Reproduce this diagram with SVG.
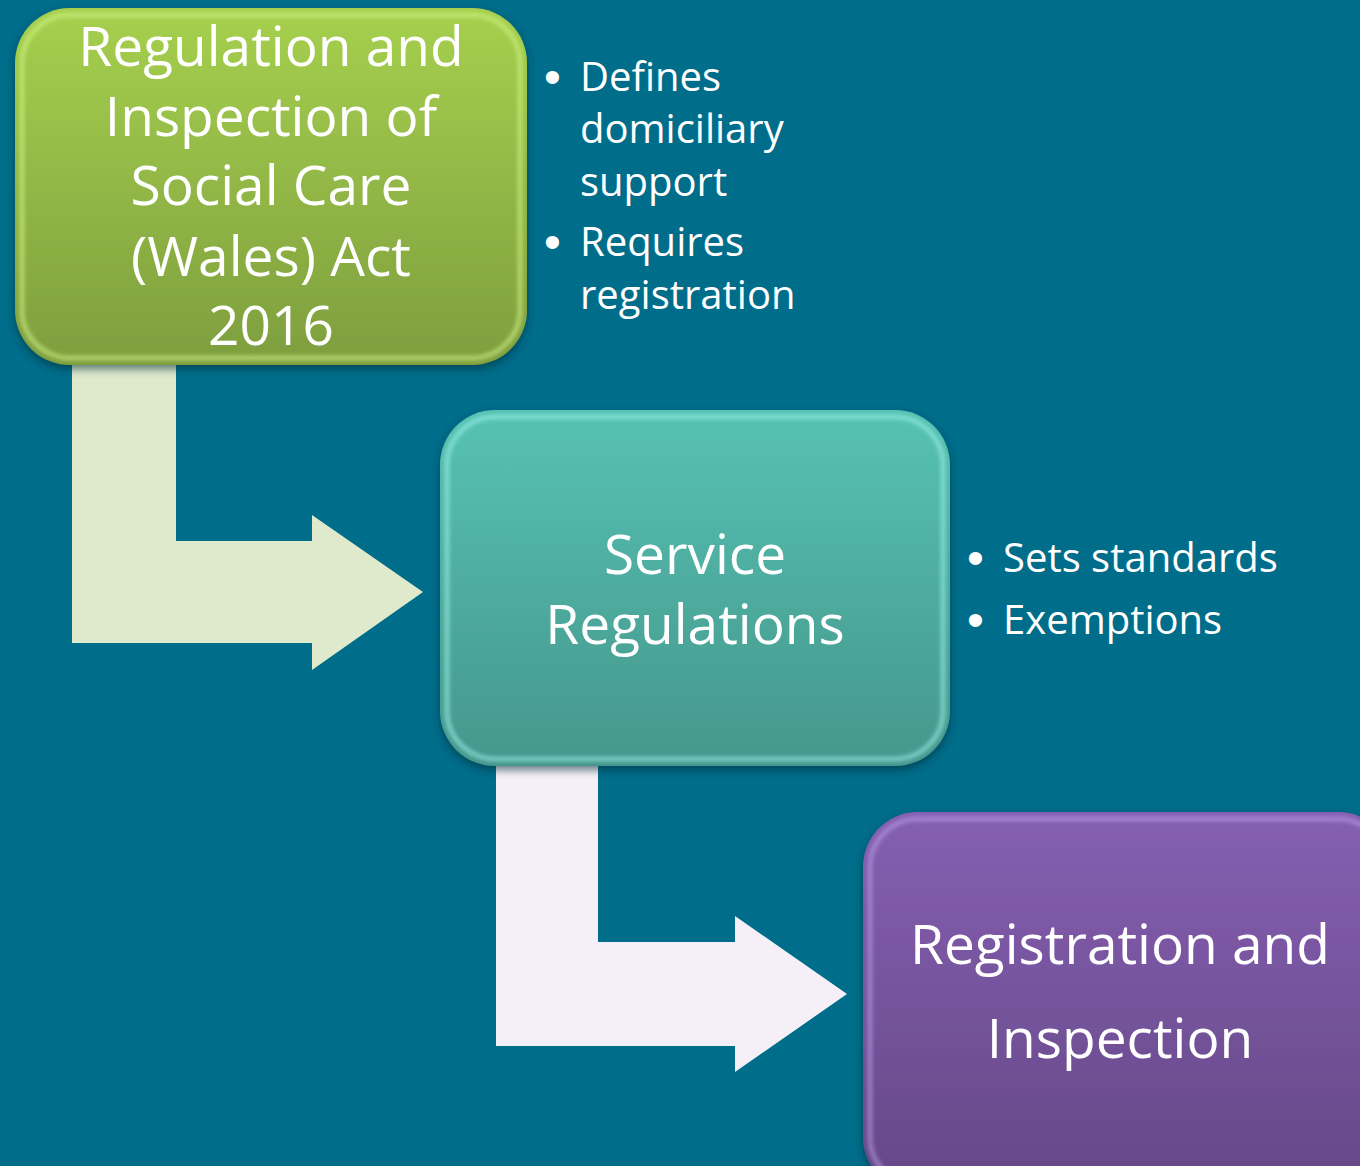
<svg xmlns="http://www.w3.org/2000/svg" width="1360" height="1166" viewBox="0 0 1360 1166">
<style>
.t{font-family:"Open Sans",Lato,"Liberation Sans",sans-serif;fill:#ffffff;}
.title{font-size:55px;text-anchor:middle;}
.big{font-size:55px;text-anchor:middle;}
.bul{font-size:40px;}
.dot{font-family:"Liberation Sans",Arial,sans-serif;font-size:48px;fill:#ffffff;}
</style>
<defs>
<linearGradient id="gGreen" x1="0" y1="0" x2="0" y2="1">
<stop offset="0" stop-color="#a6d04e"/><stop offset="1" stop-color="#7e9e3e"/>
</linearGradient>
<linearGradient id="gTeal" x1="0" y1="0" x2="0" y2="1">
<stop offset="0" stop-color="#56c2b2"/><stop offset="1" stop-color="#46968c"/>
</linearGradient>
<linearGradient id="gPurple" x1="0" y1="0" x2="0" y2="1">
<stop offset="0" stop-color="#865fb2"/><stop offset="1" stop-color="#654886"/>
</linearGradient>
<filter id="sh" x="-10%" y="-10%" width="120%" height="125%">
<feDropShadow dx="0" dy="4" stdDeviation="4" flood-color="#002a38" flood-opacity="0.6"/>
</filter>
<filter id="blur"><feGaussianBlur stdDeviation="2"/></filter>
</defs>
<rect x="0" y="0" width="1360" height="1166" fill="#006d8a"/>
<g id="connectors">
<polygon points="72,362 176,362 176,541 312,541 312,515 423,592 312,670 312,643 72,643" fill="#dfe9cc"/>
<polygon points="496,763 598,763 598,942 735,942 735,916 847,994 735,1072 735,1046 496,1046" fill="#f5f0f7"/>
</g>
<g id="node1">
<rect x="15" y="8" width="512" height="357" rx="55" fill="url(#gGreen)" filter="url(#sh)"/>
<rect x="22" y="15" width="498" height="343" rx="48" fill="none" stroke="#d4f68a" stroke-width="4" opacity="0.7" filter="url(#blur)"/>
<text class="t title" x="271" y="66">Regulation and</text>
<text class="t title" x="271" y="136">Inspection of</text>
<text class="t title" x="271" y="205">Social Care</text>
<text class="t title" x="271" y="276">(Wales) Act</text>
<text class="t title" x="271" y="345">2016</text>
</g>
<g id="bullets1">
<text class="dot" x="544" y="93">•</text><text class="t bul" x="580" y="91">Defines</text>
<text class="t bul" x="580" y="143">domiciliary</text>
<text class="t bul" x="580" y="196">support</text>
<text class="dot" x="544" y="258">•</text><text class="t bul" x="580" y="256">Requires</text>
<text class="t bul" x="580" y="309">registration</text>
</g>
<g id="node2">
<rect x="440" y="410" width="510" height="356" rx="55" fill="url(#gTeal)" filter="url(#sh)"/>
<rect x="447" y="417" width="496" height="342" rx="48" fill="none" stroke="#9ef4ec" stroke-width="4" opacity="0.7" filter="url(#blur)"/>
<text class="t big" x="695" y="574">Service</text>
<text class="t big" x="695" y="644">Regulations</text>
</g>
<g id="bullets2">
<text class="dot" x="967" y="574">•</text><text class="t bul" x="1003" y="572">Sets standards</text>
<text class="dot" x="967" y="636">•</text><text class="t bul" x="1003" y="634">Exemptions</text>
</g>
<g id="node3">
<rect x="863" y="812" width="530" height="380" rx="55" fill="url(#gPurple)" filter="url(#sh)"/>
<rect x="870" y="819" width="516" height="366" rx="48" fill="none" stroke="#b9a0e8" stroke-width="4" opacity="0.7" filter="url(#blur)"/>
<text class="t big" x="1120" y="964">Registration and</text>
<text class="t big" x="1120" y="1058">Inspection</text>
</g>
</svg>
